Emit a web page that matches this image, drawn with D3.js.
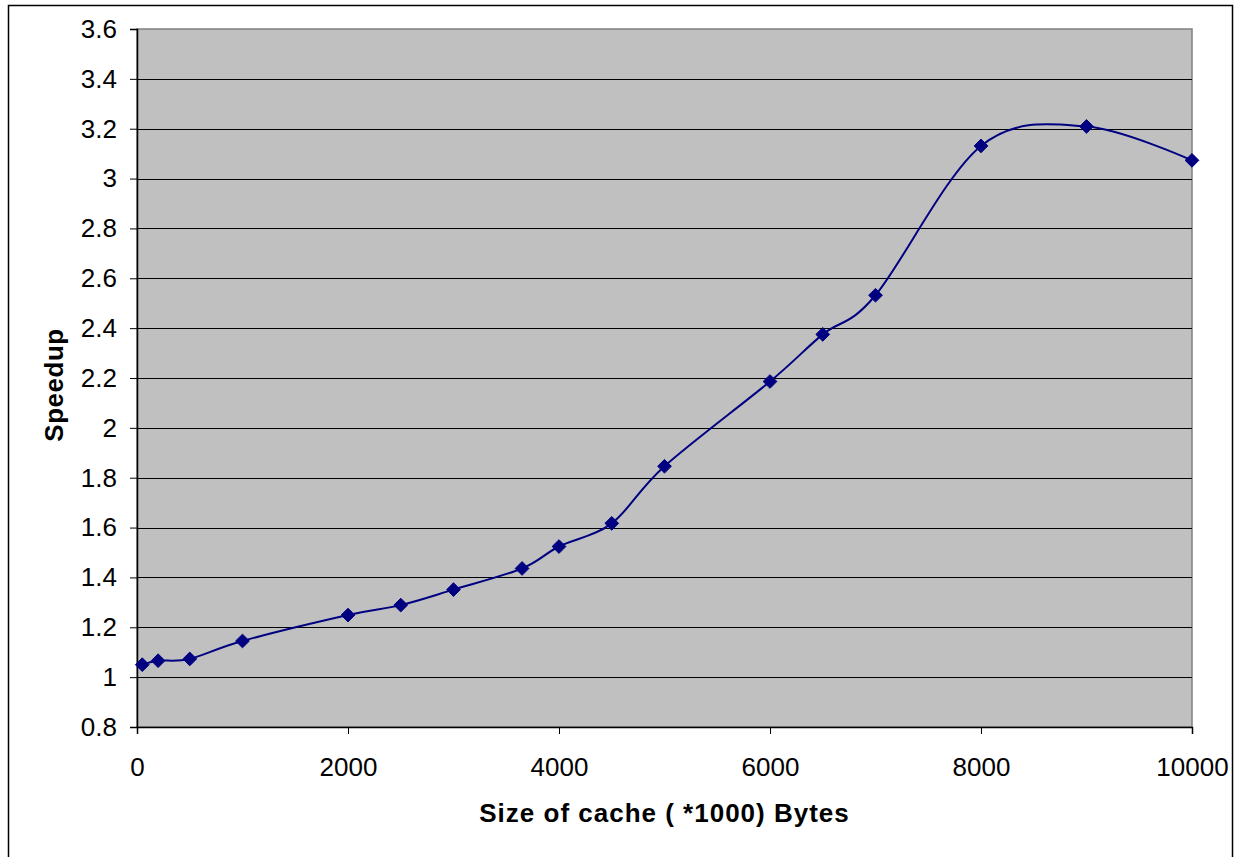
<!DOCTYPE html>
<html>
<head>
<meta charset="utf-8">
<script src="https://cdn.jsdelivr.net/npm/d3@7"></script>
<style>
  html, body { margin: 0; padding: 0; background: #fff; }
  svg { display: block; }
  text { font-family: "Liberation Sans", Arial, sans-serif; fill: #000; }
</style>
</head>
<body>
<svg id="chart" width="1235" height="857"></svg>
<script>
// Cache size (thousands of bytes) and measured speedup
const cacheSizes = [50, 200, 500, 1000, 2000, 2500, 3000, 3650, 4000, 4500, 5000, 6000, 6500, 7000, 8000, 9000, 10000];
const speedups   = [1.050, 1.066, 1.073, 1.145, 1.249, 1.289, 1.351, 1.436, 1.524, 1.617, 1.846, 2.186, 2.375, 2.532, 3.131, 3.209, 3.073];
const yTicks = [0.8, 1, 1.2, 1.4, 1.6, 1.8, 2, 2.2, 2.4, 2.6, 2.8, 3, 3.2, 3.4, 3.6];
const xTicks = [0, 2000, 4000, 6000, 8000, 10000];
const xTitle = "Size of cache ( *1000) Bytes";
const yTitle = "Speedup";

const svg = d3.select("#chart");
const plot = { left: 137, top: 29, right: 1192, bottom: 727 };

const x = d3.scaleLinear().domain([0, 10000]).range([plot.left, plot.right]);
const y = d3.scaleLinear().domain([0.8, 3.6]).range([plot.bottom, plot.top]);

// Outer chart frame
svg.append("rect")
  .attr("x", 8.5).attr("y", 5.5).attr("width", 1224).attr("height", 900)
  .attr("fill", "#fff").attr("stroke", "#000").attr("stroke-width", 1.5);

// Plot area background
svg.append("rect")
  .attr("x", plot.left).attr("y", plot.top)
  .attr("width", plot.right - plot.left).attr("height", plot.bottom - plot.top)
  .attr("fill", "#c0c0c0").attr("stroke", "#808080").attr("stroke-width", 1.5);

// Horizontal gridlines
svg.append("g")
  .selectAll("line")
  .data(yTicks.filter(d => d > 0.8 && d < 3.6))
  .join("line")
  .attr("x1", plot.left).attr("x2", plot.right)
  .attr("y1", d => Math.round(y(d)) + 0.5).attr("y2", d => Math.round(y(d)) + 0.5)
  .attr("stroke", "#000").attr("stroke-width", 1);

// Y axis
const yAxis = svg.append("g")
  .attr("transform", `translate(${plot.left},0)`)
  .call(d3.axisLeft(y).tickValues(yTicks).tickFormat(d3.format("")).tickSize(7).tickPadding(13));
yAxis.select(".domain").attr("stroke", "#000").attr("stroke-width", 1.5);
yAxis.selectAll(".tick line").attr("stroke", "#000");
yAxis.selectAll(".tick text")
  .attr("font-size", 26).attr("font-family", "Liberation Sans, Arial, sans-serif").attr("fill", "#000");

// X axis
const xAxis = svg.append("g")
  .attr("transform", `translate(0,${plot.bottom})`)
  .call(d3.axisBottom(x).tickValues(xTicks).tickFormat(d3.format("d")).tickSize(7).tickPadding(24));
xAxis.select(".domain").attr("stroke", "#000").attr("stroke-width", 1.5);
xAxis.selectAll(".tick line").attr("stroke", "#000");
xAxis.selectAll(".tick text")
  .attr("font-size", 26).attr("font-family", "Liberation Sans, Arial, sans-serif").attr("fill", "#000");

// Smoothed series line
const points = cacheSizes.map((c, i) => [c, speedups[i]]);
const line = d3.line()
  .x(d => x(d[0])).y(d => y(d[1]))
  .curve(d3.curveCardinal.tension(0));
svg.append("path")
  .datum(points)
  .attr("d", line)
  .attr("fill", "none").attr("stroke", "#000080").attr("stroke-width", 2);

// Diamond markers
const diamond = d3.symbol().type(d3.symbolDiamond2).size(120);
svg.append("g")
  .selectAll("path")
  .data(points)
  .join("path")
  .attr("transform", d => `translate(${x(d[0])},${y(d[1])})`)
  .attr("d", diamond)
  .attr("fill", "#000080").attr("stroke", "#000080").attr("stroke-width", 1);

// Axis titles
svg.append("text")
  .attr("x", (plot.left + plot.right) / 2).attr("y", 822)
  .attr("text-anchor", "middle")
  .attr("font-size", 26).attr("font-weight", "bold").attr("letter-spacing", 1)
  .text(xTitle);

svg.append("text")
  .attr("transform", `translate(63,385) rotate(-90)`)
  .attr("text-anchor", "middle")
  .attr("font-size", 26).attr("font-weight", "bold").attr("letter-spacing", 0.5)
  .text(yTitle);
</script>
</body>
</html>
